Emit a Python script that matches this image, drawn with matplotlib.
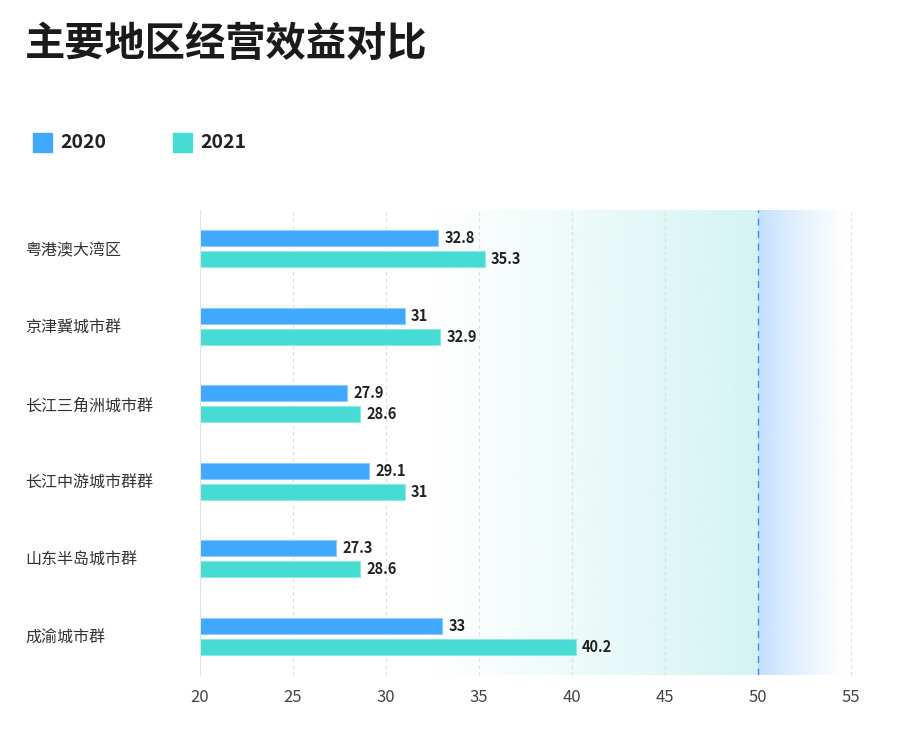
import numpy as np
import matplotlib.pyplot as plt
from matplotlib.colors import to_rgb
from matplotlib.patches import Rectangle

plt.rcParams['font.family'] = ['Noto Sans CJK SC', 'DejaVu Sans']

regions = ["粤港澳大湾区", "京津冀城市群", "长江三角洲城市群", "长江中游城市群群", "山东半岛城市群", "成渝城市群"]
values_2020 = [32.8, 31, 27.9, 29.1, 27.3, 33]
values_2021 = [35.3, 32.9, 28.6, 31, 28.6, 40.2]
years = ["2020", "2021"]
x_ticks = [20, 25, 30, 35, 40, 45, 50, 55]
target = 50

blue = "#40a9ff"
cyan = "#47dcd3"

fig = plt.figure(figsize=(9.08, 7.31), dpi=100)
ax = fig.add_axes([0.2203, 0.0766, 0.7169, 0.636])

y = np.arange(len(regions))
h = 0.205
ax.barh(y - 0.135, values_2020, height=h, color=blue, edgecolor="#8ccaff", linewidth=0.8, zorder=3)
ax.barh(y + 0.135, values_2021, height=h, color=cyan, edgecolor="#8ee9e3", linewidth=0.8, zorder=3)

for i in range(len(regions)):
    ax.text(values_2020[i] + 0.35, y[i] - 0.135, f"{values_2020[i]:g}", va="center", ha="left",
            fontsize=10.5, fontweight="bold", color="#222222", zorder=4)
    ax.text(values_2021[i] + 0.35, y[i] + 0.135, f"{values_2021[i]:g}", va="center", ha="left",
            fontsize=10.5, fontweight="bold", color="#222222", zorder=4)

# background gradients
ny = len(regions)
c1 = np.array(to_rgb("#d3f4f2"))
n = 200
img = np.ones((1, n, 4))
img[0, :, :3] = c1
img[0, :, 3] = np.linspace(0, 1, n) ** 1.1
ax.imshow(img, extent=[32.3, target, ny - 0.5, -0.5], aspect="auto", zorder=0, interpolation="bilinear")
c2 = np.array(to_rgb("#c4e0fd"))
img2 = np.ones((1, n, 4))
img2[0, :, :3] = c2
img2[0, :, 3] = np.linspace(1, 0, n) ** 1.2
ax.imshow(img2, extent=[target, 54.8, ny - 0.5, -0.5], aspect="auto", zorder=0, interpolation="bilinear")
ax.set_xlim(20, 55)
ax.set_ylim(ny - 0.5, -0.5)

for xv in x_ticks[1:]:
    if xv != target:
        ax.axvline(xv, color="#dddddd", linestyle=(0, (3, 3)), linewidth=0.8, zorder=1, clip_on=False)
ax.axvline(target, color="#3a8ef0", linestyle=(0, (5, 4)), linewidth=1.0, zorder=2)

ax.set_xticks(x_ticks)
ax.set_xticklabels([str(v) for v in x_ticks], fontsize=12, color="#444444")
ax.set_yticks(y)
ax.set_yticklabels(regions, fontsize=11.5, color="#333333", ha="left")
ax.tick_params(axis="y", length=0, pad=126)
ax.tick_params(axis="x", length=0, pad=10)
for s in ["top", "right", "bottom"]:
    ax.spines[s].set_visible(False)
ax.spines["left"].set_color("#e3e3e3")
ax.spines["left"].set_zorder(5)

fig.text(25 / 908, 1 - 45 / 731, "主要地区经营效益对比", fontsize=29, fontweight="bold",
         color="#1a1a1a", va="center", ha="left")

# legend
for i, (lab, col) in enumerate(zip(years, [blue, cyan])):
    x0 = [33, 173][i]
    fig.patches.append(Rectangle((x0 / 908, 1 - 152 / 731), 19 / 908, 19 / 731,
                                 transform=fig.transFigure, color=col))
    fig.text((x0 + 27) / 908, 1 - 142 / 731, lab, fontsize=14, fontweight="bold",
             color="#222222", va="center", ha="left")

fig.savefig("out.png", dpi=100)
